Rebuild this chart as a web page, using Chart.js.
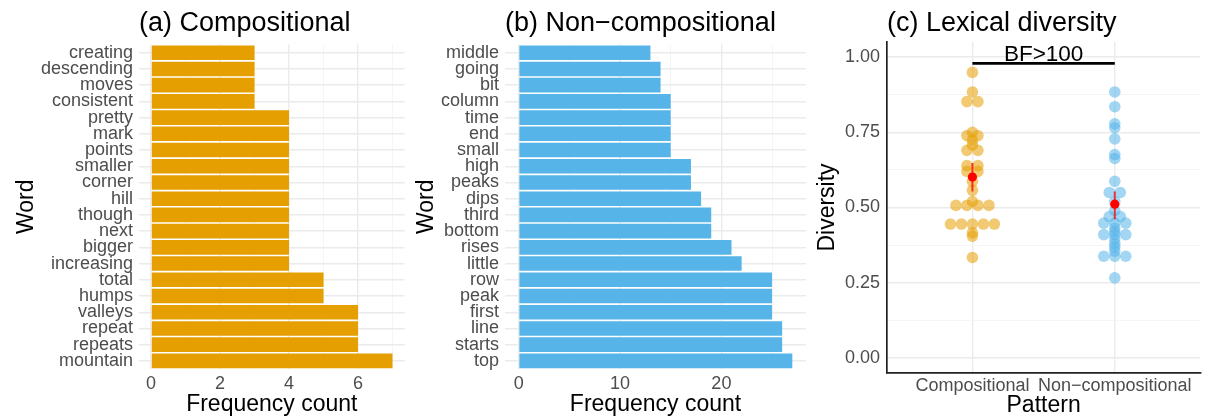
<!DOCTYPE html>
<html>
<head>
<meta charset="utf-8">
<script src="https://cdn.jsdelivr.net/npm/chart.js@4.4.0/dist/chart.umd.min.js"></script>
<style>
    html, body { margin: 0; padding: 0; background: #fff; }
    #wrap { position: relative; width: 1206px; height: 417px; overflow: hidden; }
    canvas { position: absolute; top: 0; }
</style>
</head>
<body>
<div id="wrap">
    <canvas id="chartA" width="406" height="417" style="left:0px"></canvas>
    <canvas id="chartB" width="400" height="417" style="left:406px"></canvas>
    <canvas id="chartC" width="400" height="417" style="left:806px"></canvas>
</div>
<script>
// (a) compositional words, listed top to bottom
const compWords = ['creating', 'descending', 'moves', 'consistent', 'pretty', 'mark', 'points', 'smaller',
    'corner', 'hill', 'though', 'next', 'bigger', 'increasing', 'total', 'humps', 'valleys', 'repeat',
    'repeats', 'mountain'];
const compCounts = [3, 3, 3, 3, 4, 4, 4, 4, 4, 4, 4, 4, 4, 4, 5, 5, 6, 6, 6, 7];
const compMajorTicks = [0, 2, 4, 6];
const compMinorTicks = [1, 3, 5, 7];

// (b) non-compositional words
const nonWords = ['middle', 'going', 'bit', 'column', 'time', 'end', 'small', 'high', 'peaks', 'dips',
    'third', 'bottom', 'rises', 'little', 'row', 'peak', 'first', 'line', 'starts', 'top'];
const nonCounts = [13, 14, 14, 15, 15, 15, 15, 17, 17, 18, 19, 19, 21, 22, 25, 25, 25, 26, 26, 27];
const nonMajorTicks = [0, 10, 20];
const nonMinorTicks = [5, 15, 25];

// (c) lexical diversity per description
const patternNames = ['Compositional', 'Non\u2212compositional'];
const compDiversity = [0.949, 0.884, 0.852, 0.852, 0.75, 0.739, 0.739, 0.724, 0.708, 0.69, 0.69,
    0.639, 0.639, 0.62, 0.62, 0.587, 0.557, 0.52, 0.507, 0.507, 0.507, 0.507,
    0.445, 0.445, 0.445, 0.445, 0.445, 0.416, 0.405, 0.334];
const nonDiversity = [0.884, 0.835, 0.778, 0.765, 0.728, 0.676, 0.663, 0.587, 0.55, 0.55, 0.52, 0.49,
    0.47, 0.47, 0.448, 0.448, 0.448, 0.432, 0.42, 0.41, 0.41, 0.41, 0.395, 0.38, 0.368, 0.355,
    0.338, 0.338, 0.338, 0.266];
const diversityMeans = [0.601, 0.511];
const diversityLow = [0.553, 0.461];
const diversityHigh = [0.648, 0.553];
const divMajorTicks = [0, 0.25, 0.5, 0.75, 1];
const divMinorTicks = [0.125, 0.375, 0.625, 0.875];
const bracketY = 0.979;
const bracketLabel = 'BF>100';

const FONT = "'Liberation Sans', Arial, Helvetica, sans-serif";
Chart.defaults.font.family = FONT;
Chart.defaults.color = '#4D4D4D';

const ORANGE = '#E69F00';
const BLUE = '#56B4E9';
const GRID = '#EBEBEB';
const GRID_MINOR = '#F2F2F2';

function gridStyle(majors) {
    return {
        color: ctx => (ctx.tick && majors.includes(ctx.tick.value)) ? GRID : GRID_MINOR,
        lineWidth: ctx => (ctx.tick && majors.includes(ctx.tick.value)) ? 1.4 : 0.8,
        drawTicks: false
    };
}

function makeBarChart(id, words, counts, color, title, majors, minors, yWidth, yTitlePad, padRight) {
    const maxCount = Math.max(...counts);
    const allTicks = majors.concat(minors).sort((a, b) => a - b);
    return new Chart(document.getElementById(id), {
        type: 'bar',
        data: {
            labels: words,
            datasets: [{
                data: counts,
                backgroundColor: color,
                borderWidth: 0,
                barPercentage: 0.9,
                categoryPercentage: 1
            }]
        },
        options: {
            indexAxis: 'y',
            responsive: false,
            animation: false,
            layout: { padding: { left: 0, right: padRight, top: 0, bottom: 0 } },
            scales: {
                x: {
                    type: 'linear',
                    min: -0.05 * maxCount,
                    max: 1.05 * maxCount,
                    afterBuildTicks: s => { s.ticks = allTicks.map(v => ({ value: v })); },
                    afterFit: s => { s.height = 48; },
                    grid: gridStyle(majors),
                    border: { display: false },
                    ticks: {
                        autoSkip: false, maxRotation: 0, padding: 4.5,
                        font: { size: 18 }, color: '#4D4D4D',
                        callback: v => majors.includes(v) ? String(v) : ''
                    },
                    title: {
                        display: true, text: 'Frequency count', color: '#000',
                        font: { size: 23 }, padding: { top: 0, bottom: -1.5 }
                    }
                },
                y: {
                    afterFit: s => { s.width = yWidth; },
                    grid: { color: GRID, lineWidth: 1.4, offset: false, drawTicks: false },
                    border: { display: false },
                    ticks: { autoSkip: false, padding: 6, font: { size: 18 }, color: '#4D4D4D' },
                    title: {
                        display: true, text: 'Word', color: '#000',
                        font: { size: 23 }, padding: { top: yTitlePad, bottom: 0 }
                    }
                }
            },
            plugins: {
                legend: { display: false },
                tooltip: { enabled: false },
                title: {
                    display: true, text: title, align: 'start', fullSize: false, color: '#000',
                    font: { size: 27, weight: 'normal' }, padding: { top: 7, bottom: 5.2 }
                }
            }
        }
    });
}

makeBarChart('chartA', compWords, compCounts, ORANGE, '(a) Compositional',
    compMajorTicks, compMinorTicks, 139, 13, 1.4);
makeBarChart('chartB', nonWords, nonCounts, BLUE, '(b) Non\u2212compositional',
    nonMajorTicks, nonMinorTicks, 99, 7, 0);

// (c) dot plot: equal values stack side by side, centred on the group
const DOT_GAP = 11;
function stackDots(values, center, unitPx) {
    const step = DOT_GAP / unitPx;
    const rows = new Map();
    values.forEach(v => rows.set(v, (rows.get(v) || 0) + 1));
    const pts = [];
    rows.forEach((n, v) => {
        for (let k = 0; k < n; k++) pts.push({ x: center + (k - (n - 1) / 2) * step, y: v });
    });
    return pts;
}

const bfLabelPlugin = {
    id: 'bfLabel',
    afterDatasetsDraw(chart) {
        const { ctx, scales: { x, y } } = chart;
        ctx.save();
        ctx.font = '22.5px ' + FONT;
        ctx.fillStyle = '#000';
        ctx.textAlign = 'center';
        ctx.textBaseline = 'alphabetic';
        ctx.fillText(bracketLabel, x.getPixelForValue(1.5), y.getPixelForValue(bracketY) - 2.5);
        ctx.restore();
    }
};

const allDivTicks = divMajorTicks.concat(divMinorTicks).sort((a, b) => a - b);
const chartC = new Chart(document.getElementById('chartC'), {
    type: 'scatter',
    data: {
        datasets: [
            {
                data: diversityMeans.map((m, i) => ({ x: i + 1, y: m })),
                backgroundColor: '#FF0000', pointRadius: 4.6, pointBorderWidth: 0, order: 0
            },
            {
                data: [{ x: 1, y: diversityLow[0] }, { x: 1, y: diversityHigh[0] }],
                showLine: true, borderColor: 'rgba(255,0,0,0.75)', borderWidth: 2, pointRadius: 0, order: 1
            },
            {
                data: [{ x: 2, y: diversityLow[1] }, { x: 2, y: diversityHigh[1] }],
                showLine: true, borderColor: 'rgba(255,0,0,0.75)', borderWidth: 2, pointRadius: 0, order: 1
            },
            {
                data: [{ x: 1, y: bracketY }, { x: 2, y: bracketY }],
                showLine: true, borderColor: '#000', borderWidth: 2.6, pointRadius: 0, order: 2
            },
            {
                data: compDiversity.map(v => ({ x: 1, y: v })),
                backgroundColor: 'rgba(230,159,0,0.55)', pointRadius: 5.8, pointBorderWidth: 0, order: 3
            },
            {
                data: nonDiversity.map(v => ({ x: 2, y: v })),
                backgroundColor: 'rgba(86,180,233,0.55)', pointRadius: 5.8, pointBorderWidth: 0, order: 3
            }
        ]
    },
    options: {
        responsive: false,
        animation: false,
        layout: { padding: 0 },
        scales: {
            x: {
                type: 'linear',
                min: 0.4,
                max: 2.6,
                afterBuildTicks: s => { s.ticks = [1, 2].map(v => ({ value: v })); },
                afterFit: s => { s.height = 44; },
                grid: { color: GRID, lineWidth: 1.4, drawTicks: false },
                border: { display: true, color: '#222', width: 1.7 },
                ticks: {
                    autoSkip: false, maxRotation: 0, padding: 2.5,
                    font: { size: 18 }, color: '#4D4D4D',
                    callback: v => patternNames[v - 1] || ''
                },
                title: {
                    display: true, text: 'Pattern', color: '#000',
                    font: { size: 23 }, padding: { top: 0, bottom: -2 }
                }
            },
            y: {
                type: 'linear',
                min: -0.05,
                max: 1.05,
                afterBuildTicks: s => { s.ticks = allDivTicks.map(v => ({ value: v })); },
                afterFit: s => { s.width = 81; },
                grid: gridStyle(divMajorTicks),
                border: { display: true, color: '#222', width: 1.7 },
                ticks: {
                    padding: 7, font: { size: 18 }, color: '#4D4D4D',
                    callback: v => divMajorTicks.includes(v) ? v.toFixed(2) : ''
                },
                title: {
                    display: true, text: 'Diversity', color: '#000',
                    font: { size: 23 }, padding: { top: 8, bottom: 0 }
                }
            }
        },
        plugins: {
            legend: { display: false },
            tooltip: { enabled: false },
            title: {
                display: true, text: '(c) Lexical diversity', align: 'start', fullSize: false, color: '#000',
                font: { size: 27, weight: 'normal' }, padding: { top: 7, bottom: 2.6 }
            }
        }
    },
    plugins: [bfLabelPlugin]
});

// second pass: spread stacked dots now that the pixel scale is known
const unitPx = chartC.scales.x.getPixelForValue(2) - chartC.scales.x.getPixelForValue(1);
chartC.data.datasets[4].data = stackDots(compDiversity, 1, unitPx);
chartC.data.datasets[5].data = stackDots(nonDiversity, 2, unitPx);
chartC.update('none');
</script>
</body>
</html>
